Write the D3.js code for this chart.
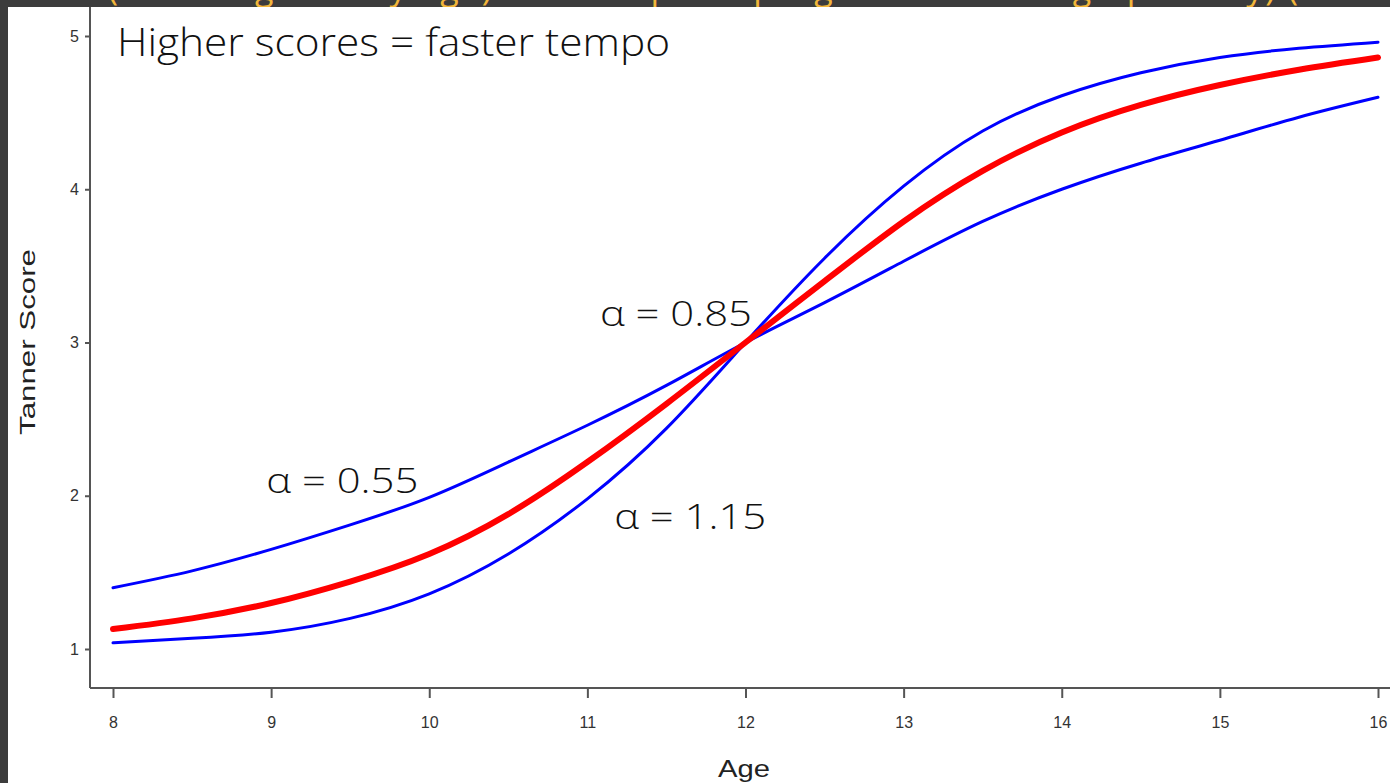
<!DOCTYPE html>
<html>
<head>
<meta charset="utf-8">
<script src="https://cdn.jsdelivr.net/npm/d3@7"></script>
<style>
body { margin: 0; background: #3c3c3c; }
svg { display: block; }
</style>
</head>
<body>
<div id="chart"></div>
<script>
// data
var ages = [8, 8.5, 9, 9.5, 10, 10.5, 11, 11.5, 12, 12.5, 13, 13.5, 14, 14.5, 15, 15.5, 16];
var alpha055 = [1.40, 1.51, 1.65, 1.81, 1.99, 2.22, 2.46, 2.72, 3.00, 3.26, 3.53, 3.79, 4.00, 4.17, 4.32, 4.47, 4.60];
var alpha085 = [1.13, 1.20, 1.30, 1.44, 1.62, 1.88, 2.22, 2.60, 3.00, 3.40, 3.79, 4.12, 4.37, 4.55, 4.68, 4.78, 4.86];
var alpha115 = [1.04, 1.07, 1.11, 1.20, 1.36, 1.62, 1.98, 2.44, 3.00, 3.55, 4.02, 4.38, 4.61, 4.76, 4.86, 4.92, 4.96];
var xTicks = [8, 9, 10, 11, 12, 13, 14, 15, 16];
var yTicks = [1, 2, 3, 4, 5];
var labels = [
	{text : 'α = 0.85', age : 11.08, score : 3.11},
	{text : 'α = 0.55', age : 8.97, score : 2.02},
	{text : 'α = 1.15', age : 11.17, score : 1.78}
];

var W = 1390, H = 783;
var svg = d3.select('#chart').append('svg')
	.attr('width', W)
	.attr('height', H);

// slide background
svg.append('rect').attr('x', 0).attr('y', 0).attr('width', W).attr('height', H).attr('fill', '#3c3c3c');
svg.append('rect').attr('x', 8).attr('y', 7).attr('width', W - 8).attr('height', H - 7).attr('fill', '#ffffff');

// cut-off slide title at the top
svg.append('clipPath').attr('id', 'topClip')
	.append('rect').attr('x', 0).attr('y', 0).attr('width', W).attr('height', 7);
svg.append('text')
	.attr('clip-path', 'url(#topClip)')
	.attr('x', 108).attr('y', 0)
	.attr('fill', '#f2b63a')
	.style('font-family', 'Open Sans, sans-serif')
	.style('font-size', '34px')
	.attr('textLength', 1190)
	.text('(Tanner grade by age) and tempo of progression through puberty) (');

var x = d3.scaleLinear().domain([8, 16]).range([113, 1378]);
var y = d3.scaleLinear().domain([1, 5]).range([649, 36]);

// axes
var xAxis = svg.append('g').attr('transform', 'translate(0,688)')
	.call(d3.axisBottom(x).tickValues(xTicks).tickFormat(d3.format('d'))
		.tickSize(10).tickPadding(19).tickSizeOuter(0));
xAxis.select('.domain').attr('d', 'M90,0H1390');

var yAxis = svg.append('g').attr('transform', 'translate(90,0)')
	.call(d3.axisLeft(y).tickValues(yTicks).tickFormat(d3.format('d'))
		.tickSize(5).tickPadding(6).tickSizeOuter(0));
yAxis.select('.domain').attr('d', 'M0,7V688');

[xAxis, yAxis].forEach(function(g){
	g.selectAll('.domain, line').attr('stroke', '#555').attr('stroke-width', 2);
	g.selectAll('text')
		.attr('fill', '#333')
		.style('font-family', 'Liberation Sans, Arial, sans-serif')
		.style('font-size', '16px');
});

svg.append('text')
	.attr('x', 744).attr('y', 777)
	.attr('text-anchor', 'middle')
	.attr('fill', '#222')
	.style('font-family', 'Liberation Sans, Arial, sans-serif')
	.style('font-size', '23px')
	.attr('textLength', 52)
	.attr('lengthAdjust', 'spacingAndGlyphs')
	.text('Age');

svg.append('text')
	.attr('transform', 'translate(35,342) rotate(-90)')
	.attr('text-anchor', 'middle')
	.attr('fill', '#222')
	.style('font-family', 'Liberation Sans, Arial, sans-serif')
	.style('font-size', '22px')
	.attr('textLength', 186)
	.attr('lengthAdjust', 'spacingAndGlyphs')
	.text('Tanner Score');

// curves
var line = d3.line()
	.x(function(d){ return x(d[0]); })
	.y(function(d){ return y(d[1]); })
	.curve(d3.curveNatural);

function drawCurve(values, color, width){
	svg.append('path')
		.datum(ages.map(function(a, i){ return [a, values[i]]; }))
		.attr('d', line)
		.attr('fill', 'none')
		.attr('stroke', color)
		.attr('stroke-width', width)
		.attr('stroke-linecap', 'round');
}

drawCurve(alpha055, '#0000ff', 3);
drawCurve(alpha115, '#0000ff', 3);
drawCurve(alpha085, '#ff0000', 6);

// annotations
svg.append('text')
	.attr('x', 117).attr('y', 56)
	.attr('fill', '#111')
	.style('font-family', 'Open Sans, sans-serif')
	.style('font-weight', 300)
	.style('font-size', '38px')
	.attr('textLength', 553)
	.attr('lengthAdjust', 'spacingAndGlyphs')
	.text('Higher scores = faster tempo');

svg.selectAll('.alphaLabel')
	.data(labels)
	.enter().append('text')
	.attr('class', 'alphaLabel')
	.attr('x', function(d){ return x(d.age); })
	.attr('y', function(d){ return y(d.score); })
	.attr('fill', '#111')
	.style('font-family', 'Open Sans, sans-serif')
	.style('font-weight', 300)
	.style('font-size', '35px')
	.attr('textLength', 152)
	.attr('lengthAdjust', 'spacingAndGlyphs')
	.text(function(d){ return d.text; });
</script>
</body>
</html>
